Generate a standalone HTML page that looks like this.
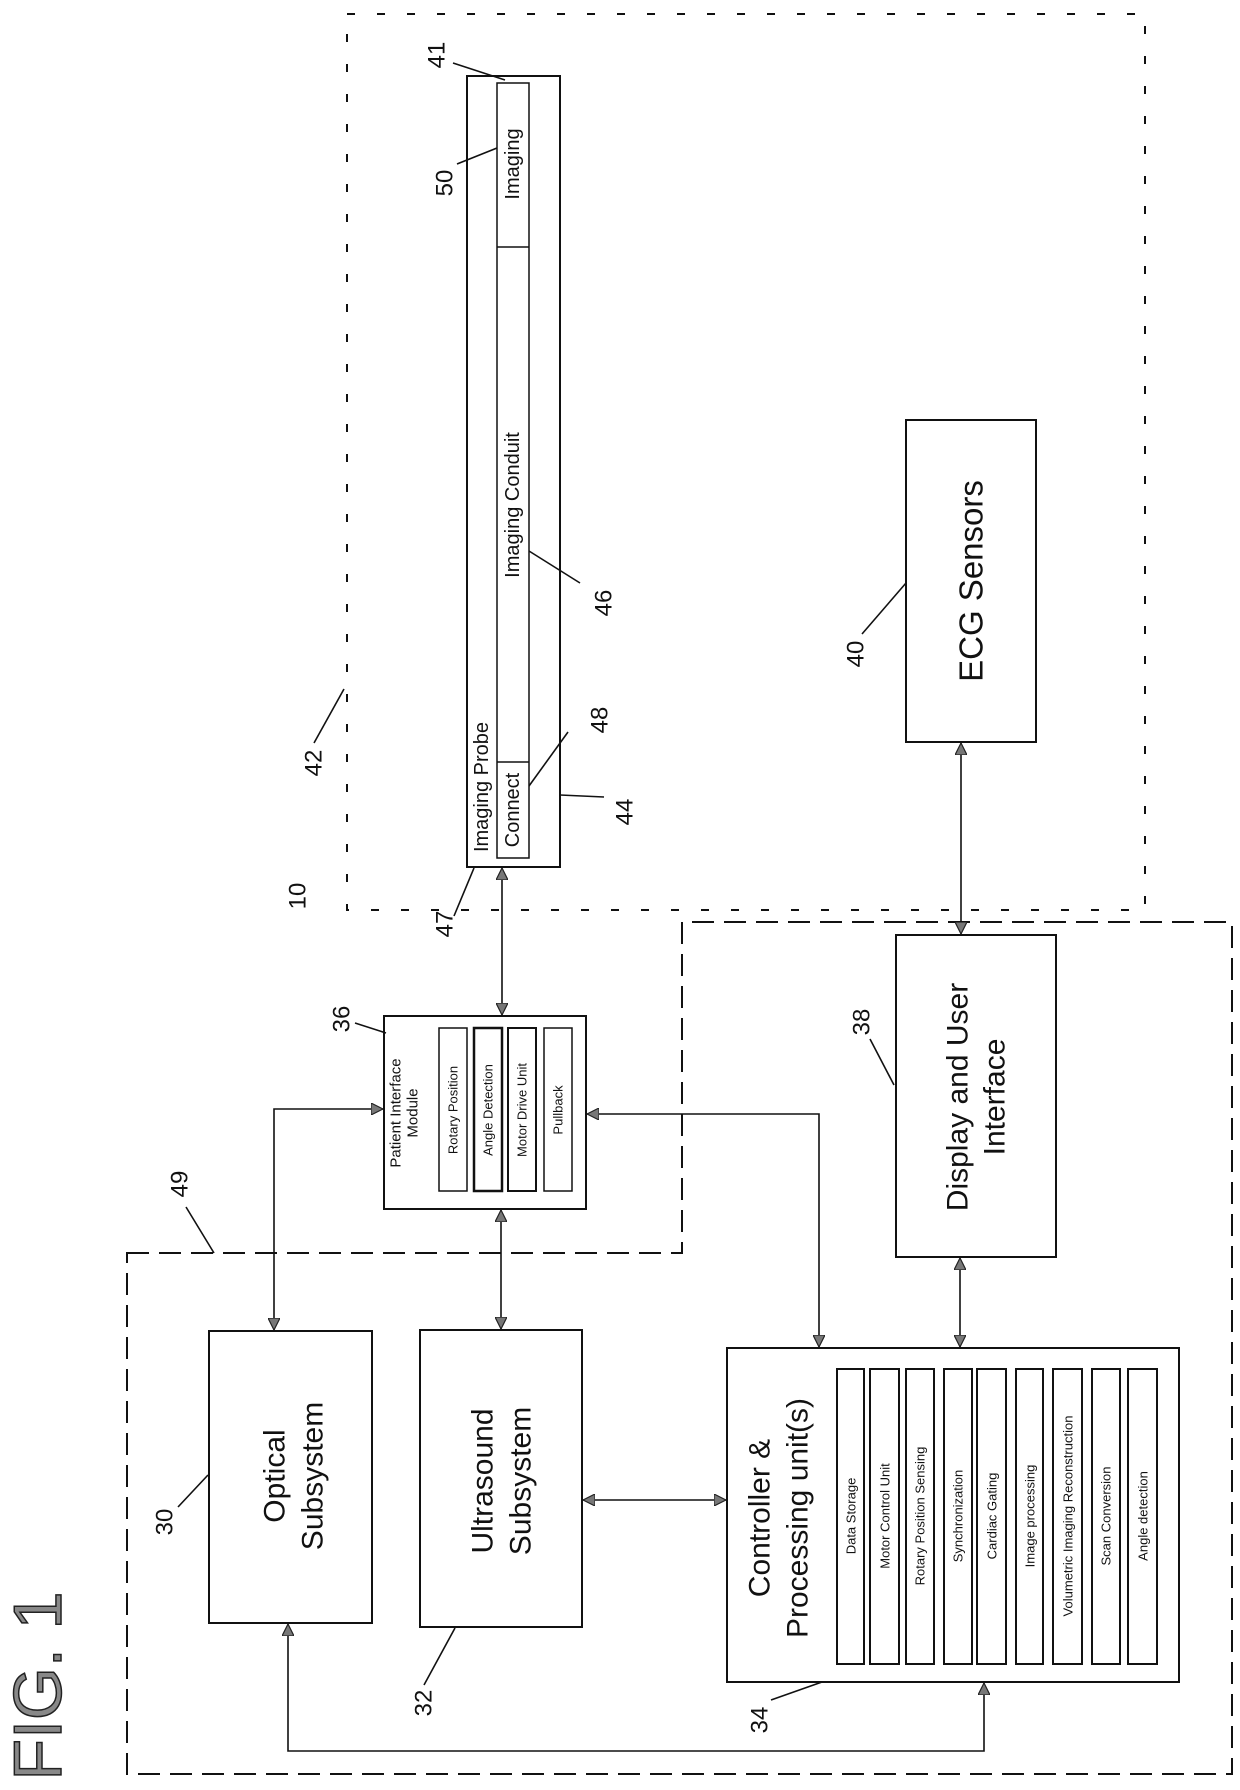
<!DOCTYPE html>
<html><head><meta charset="utf-8"><style>html,body{margin:0;padding:0;background:#fff}svg{display:block}text{font-family:"Liberation Sans",Arial,sans-serif;fill:#111}</style></head>
<body>
<svg width="1240" height="1790" viewBox="0 0 1240 1790" xmlns="http://www.w3.org/2000/svg">
<defs>
<marker id="a" viewBox="0 0 10 10" refX="10" refY="5" markerWidth="12" markerHeight="12" markerUnits="userSpaceOnUse" orient="auto-start-reverse"><path d="M0,0 L10,5 L0,10 z" fill="#777" stroke="#222" stroke-width="1"/></marker>
</defs>
<g fill="none" stroke="#111" stroke-width="2">
<rect x="347" y="14" width="798" height="896" stroke-dasharray="8 22" stroke-width="2"/>
<path d="M127,1253 L682,1253 L682,922 L1232,922 L1232,1774 L127,1774 Z" stroke-dasharray="22 10"/>
<rect x="467" y="76" width="93" height="791"/>
<rect x="497" y="83" width="32" height="775" stroke-width="1.5"/>
<line x1="497" y1="247" x2="529" y2="247" stroke-width="1.5"/>
<line x1="497" y1="762" x2="529" y2="762" stroke-width="1.5"/>
<rect x="906" y="420" width="130" height="322"/>
<rect x="384" y="1016" width="202" height="193"/>
<rect x="439" y="1028" width="28" height="163" stroke-width="1.5"/>
<rect x="474" y="1028" width="28" height="163" stroke-width="2.5"/>
<rect x="508" y="1028" width="28" height="163" stroke-width="2"/>
<rect x="544" y="1028" width="28" height="163" stroke-width="1.5"/>
<rect x="896" y="935" width="160" height="322"/>
<rect x="209" y="1331" width="163" height="292"/>
<rect x="420" y="1330" width="162" height="297"/>
<rect x="727" y="1348" width="452" height="334"/>
<rect x="837" y="1369" width="27" height="295" stroke-width="2"/>
<rect x="870" y="1369" width="29" height="295" stroke-width="2"/>
<rect x="906" y="1369" width="28" height="295" stroke-width="2"/>
<rect x="944" y="1369" width="28" height="295" stroke-width="2"/>
<rect x="977" y="1369" width="29" height="295" stroke-width="2"/>
<rect x="1016" y="1369" width="27" height="295" stroke-width="2"/>
<rect x="1053" y="1369" width="29" height="295" stroke-width="2"/>
<rect x="1092" y="1369" width="28" height="295" stroke-width="2"/>
<rect x="1128" y="1369" width="29" height="295" stroke-width="2"/>
</g>
<g fill="none" stroke="#111" stroke-width="1.6">
<line x1="502" y1="868" x2="502" y2="1015" marker-start="url(#a)" marker-end="url(#a)"/>
<line x1="961" y1="743" x2="961" y2="934" marker-start="url(#a)" marker-end="url(#a)"/>
<path d="M383,1109 L274,1109 L274,1330" marker-start="url(#a)" marker-end="url(#a)"/>
<line x1="501" y1="1210" x2="501" y2="1329" marker-start="url(#a)" marker-end="url(#a)"/>
<path d="M587,1114 L819,1114 L819,1347" marker-start="url(#a)" marker-end="url(#a)"/>
<line x1="960" y1="1258" x2="960" y2="1347" marker-start="url(#a)" marker-end="url(#a)"/>
<line x1="583" y1="1500" x2="726" y2="1500" marker-start="url(#a)" marker-end="url(#a)"/>
<path d="M288,1624 L288,1751 L984,1751 L984,1683" marker-start="url(#a)" marker-end="url(#a)"/>
<line x1="453" y1="63" x2="505" y2="80"/>
<line x1="457" y1="164" x2="497" y2="148"/>
<line x1="580" y1="583" x2="529" y2="551"/>
<line x1="862" y1="634" x2="906" y2="583"/>
<line x1="314" y1="743" x2="344" y2="689"/>
<line x1="568" y1="732" x2="529" y2="786"/>
<line x1="560" y1="795" x2="604" y2="797"/>
<line x1="454" y1="916" x2="474" y2="868"/>
<line x1="355" y1="1023" x2="386" y2="1033"/>
<line x1="870" y1="1039" x2="894" y2="1085"/>
<line x1="186" y1="1207" x2="214" y2="1253"/>
<line x1="178" y1="1507" x2="208" y2="1475"/>
<line x1="424" y1="1685" x2="455" y2="1628"/>
<line x1="771" y1="1700" x2="822" y2="1682"/>
</g>
<g>
<text transform="translate(513,164) rotate(-90)" text-anchor="middle" dominant-baseline="central" font-size="20">Imaging</text>
<text transform="translate(513,505) rotate(-90)" text-anchor="middle" dominant-baseline="central" font-size="20">Imaging Conduit</text>
<text transform="translate(513,810) rotate(-90)" text-anchor="middle" dominant-baseline="central" font-size="20">Connect</text>
<text transform="translate(482,787) rotate(-90)" text-anchor="middle" dominant-baseline="central" font-size="20">Imaging Probe</text>
<text transform="translate(971,581) rotate(-90)" text-anchor="middle" dominant-baseline="central" font-size="33">ECG Sensors</text>
<text transform="translate(396,1113) rotate(-90)" text-anchor="middle" dominant-baseline="central" font-size="15">Patient Interface</text>
<text transform="translate(413,1113) rotate(-90)" text-anchor="middle" dominant-baseline="central" font-size="15">Module</text>
<text transform="translate(453,1110) rotate(-90)" text-anchor="middle" dominant-baseline="central" font-size="13">Rotary Position</text>
<text transform="translate(488,1110) rotate(-90)" text-anchor="middle" dominant-baseline="central" font-size="13">Angle Detection</text>
<text transform="translate(522,1110) rotate(-90)" text-anchor="middle" dominant-baseline="central" font-size="13">Motor Drive Unit</text>
<text transform="translate(558,1110) rotate(-90)" text-anchor="middle" dominant-baseline="central" font-size="13">Pullback</text>
<text transform="translate(958,1097) rotate(-90)" text-anchor="middle" dominant-baseline="central" font-size="30">Display and User</text>
<text transform="translate(995,1097) rotate(-90)" text-anchor="middle" dominant-baseline="central" font-size="30">Interface</text>
<text transform="translate(275,1476) rotate(-90)" text-anchor="middle" dominant-baseline="central" font-size="30">Optical</text>
<text transform="translate(313,1476) rotate(-90)" text-anchor="middle" dominant-baseline="central" font-size="30">Subsystem</text>
<text transform="translate(483,1481) rotate(-90)" text-anchor="middle" dominant-baseline="central" font-size="30">Ultrasound</text>
<text transform="translate(521,1481) rotate(-90)" text-anchor="middle" dominant-baseline="central" font-size="30">Subsystem</text>
<text transform="translate(760,1518) rotate(-90)" text-anchor="middle" dominant-baseline="central" font-size="30">Controller &amp;</text>
<text transform="translate(798,1518) rotate(-90)" text-anchor="middle" dominant-baseline="central" font-size="30">Processing unit(s)</text>
<text transform="translate(851,1516) rotate(-90)" text-anchor="middle" dominant-baseline="central" font-size="13">Data Storage</text>
<text transform="translate(885,1516) rotate(-90)" text-anchor="middle" dominant-baseline="central" font-size="13">Motor Control Unit</text>
<text transform="translate(920,1516) rotate(-90)" text-anchor="middle" dominant-baseline="central" font-size="13">Rotary Position Sensing</text>
<text transform="translate(958,1516) rotate(-90)" text-anchor="middle" dominant-baseline="central" font-size="13">Synchronization</text>
<text transform="translate(992,1516) rotate(-90)" text-anchor="middle" dominant-baseline="central" font-size="13">Cardiac Gating</text>
<text transform="translate(1030,1516) rotate(-90)" text-anchor="middle" dominant-baseline="central" font-size="13">Image processing</text>
<text transform="translate(1068,1516) rotate(-90)" text-anchor="middle" dominant-baseline="central" font-size="13">Volumetric Imaging Reconstruction</text>
<text transform="translate(1106,1516) rotate(-90)" text-anchor="middle" dominant-baseline="central" font-size="13">Scan Conversion</text>
<text transform="translate(1143,1516) rotate(-90)" text-anchor="middle" dominant-baseline="central" font-size="13">Angle detection</text>
<text transform="translate(437,55) rotate(-90)" text-anchor="middle" dominant-baseline="central" font-size="24">41</text>
<text transform="translate(445,183) rotate(-90)" text-anchor="middle" dominant-baseline="central" font-size="24">50</text>
<text transform="translate(604,603) rotate(-90)" text-anchor="middle" dominant-baseline="central" font-size="24">46</text>
<text transform="translate(856,654) rotate(-90)" text-anchor="middle" dominant-baseline="central" font-size="24">40</text>
<text transform="translate(314,763) rotate(-90)" text-anchor="middle" dominant-baseline="central" font-size="24">42</text>
<text transform="translate(600,720) rotate(-90)" text-anchor="middle" dominant-baseline="central" font-size="24">48</text>
<text transform="translate(625,812) rotate(-90)" text-anchor="middle" dominant-baseline="central" font-size="24">44</text>
<text transform="translate(298,896) rotate(-90)" text-anchor="middle" dominant-baseline="central" font-size="24">10</text>
<text transform="translate(445,924) rotate(-90)" text-anchor="middle" dominant-baseline="central" font-size="24">47</text>
<text transform="translate(342,1019) rotate(-90)" text-anchor="middle" dominant-baseline="central" font-size="24">36</text>
<text transform="translate(862,1022) rotate(-90)" text-anchor="middle" dominant-baseline="central" font-size="24">38</text>
<text transform="translate(180,1184) rotate(-90)" text-anchor="middle" dominant-baseline="central" font-size="24">49</text>
<text transform="translate(165,1522) rotate(-90)" text-anchor="middle" dominant-baseline="central" font-size="24">30</text>
<text transform="translate(424,1703) rotate(-90)" text-anchor="middle" dominant-baseline="central" font-size="24">32</text>
<text transform="translate(760,1720) rotate(-90)" text-anchor="middle" dominant-baseline="central" font-size="24">34</text>
<text transform="translate(38,1686) rotate(-90)" text-anchor="middle" dominant-baseline="central" font-size="68" style="fill:#888;stroke:#222;stroke-width:1.5">FIG. 1</text>
</g>
</svg>
</body></html>
